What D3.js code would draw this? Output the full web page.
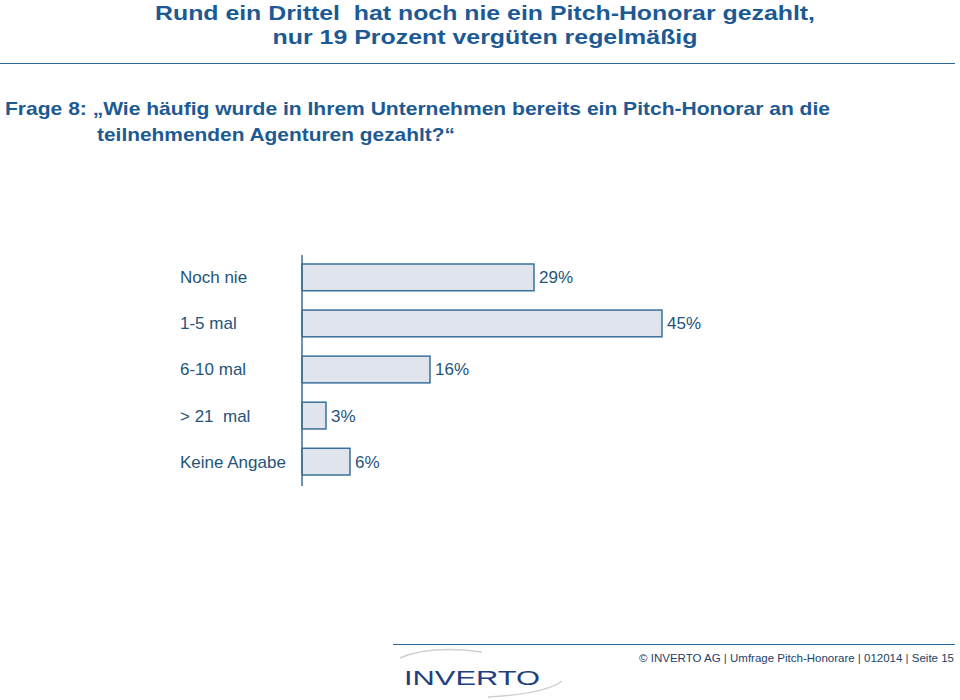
<!DOCTYPE html>
<html>
<head>
<meta charset="utf-8">
<script src="https://cdn.jsdelivr.net/npm/d3@7"></script>
<style>
body{margin:0;background:#fff;}
text{font-family:"Liberation Sans",Arial,sans-serif;white-space:pre;}
</style>
</head>
<body>
<script>
const categories=['Noch nie','1-5 mal','6-10 mal','> 21  mal','Keine Angabe']
const values=[29,45,16,3,6]
const titleLines=['Rund ein Drittel  hat noch nie ein Pitch-Honorar gezahlt,','nur 19 Prozent vergüten regelmäßig']
const questionLines=['Frage 8: „Wie häufig wurde in Ihrem Unternehmen bereits ein Pitch-Honorar an die','teilnehmenden Agenturen gezahlt?“']
const footer='© INVERTO AG | Umfrage Pitch-Honorare | 012014 | Seite 15'

const W=960,H=700
const blue='#1d5a94', dark='#245479'

let svg=d3.select('body').append('svg')
	.attr('width',W)
	.attr('height',H)

// title, fitted to the widths of the original
const titleLen=[660,425]
svg.append('g')
	.selectAll('text')
	.data(titleLines)
	.join('text')
	.attr('x',485)
	.attr('y',(d,i)=>20+i*24)
	.attr('text-anchor','middle')
	.attr('font-size',21)
	.attr('font-weight','bold')
	.attr('fill',blue)
	.attr('textLength',(d,i)=>titleLen[i])
	.attr('lengthAdjust','spacingAndGlyphs')
	.text(d=>d)

svg.append('line')
	.attr('x1',0).attr('x2',955)
	.attr('y1',63.5).attr('y2',63.5)
	.attr('stroke','#2a6a9a')
	.attr('stroke-width',1.2)

const qLen=[825,358]
svg.append('g')
	.selectAll('text')
	.data(questionLines)
	.join('text')
	.attr('x',(d,i)=>i==0?5:97)
	.attr('y',(d,i)=>115+i*26)
	.attr('font-size',19)
	.attr('font-weight','bold')
	.attr('fill',blue)
	.attr('textLength',(d,i)=>qLen[i])
	.attr('lengthAdjust','spacingAndGlyphs')
	.text(d=>d)

// chart
const x0=302
let xScale=d3.scaleLinear()
	.domain([0,45])
	.range([x0,662])

let yScale=d3.scaleBand()
	.domain(categories)
	.range([264,475])
	.paddingInner(0.42)
	.paddingOuter(0)

svg.append('g')
	.selectAll('rect')
	.data(values)
	.join('rect')
	.attr('x',xScale(0))
	.attr('y',(d,i)=>yScale(categories[i]))
	.attr('width',d=>xScale(d)-xScale(0))
	.attr('height',yScale.bandwidth())
	.attr('fill','#dfe4ed')
	.attr('stroke','#3a7098')
	.attr('stroke-width',1.5)

svg.append('line')
	.attr('x1',x0).attr('x2',x0)
	.attr('y1',255).attr('y2',486)
	.attr('stroke','#3a7098')
	.attr('stroke-width',1.5)

svg.append('g')
	.selectAll('text')
	.data(categories)
	.join('text')
	.attr('x',180)
	.attr('y',d=>yScale(d)+yScale.bandwidth()/2)
	.attr('dy','0.35em')
	.attr('font-size',17)
	.attr('fill',dark)
	.text(d=>d)

svg.append('g')
	.selectAll('text')
	.data(values)
	.join('text')
	.attr('x',d=>xScale(d)+5)
	.attr('y',(d,i)=>yScale(categories[i])+yScale.bandwidth()/2)
	.attr('dy','0.35em')
	.attr('font-size',17)
	.attr('fill',dark)
	.text(d=>d+'%')

// footer
svg.append('line')
	.attr('x1',393).attr('x2',955)
	.attr('y1',644.5).attr('y2',644.5)
	.attr('stroke','#2a6a9a')
	.attr('stroke-width',1)

svg.append('text')
	.attr('x',954)
	.attr('y',662)
	.attr('text-anchor','end')
	.attr('font-size',11.5)
	.attr('fill','#1d3f66')
	.text(footer)

// logo swooshes
svg.append('path')
	.attr('d','M400,658 Q430,645 482,652')
	.attr('fill','none')
	.attr('stroke','#cdd1d6')
	.attr('stroke-width',1.5)
svg.append('path')
	.attr('d','M488,697 Q545,694 562,681')
	.attr('fill','none')
	.attr('stroke','#cdd1d6')
	.attr('stroke-width',1.5)

svg.append('text')
	.attr('x',404)
	.attr('y',685)
	.attr('font-size',21)
	.attr('fill','#213f7e')
	.attr('textLength',136)
	.attr('lengthAdjust','spacingAndGlyphs')
	.text('INVERTO')
</script>
</body>
</html>
